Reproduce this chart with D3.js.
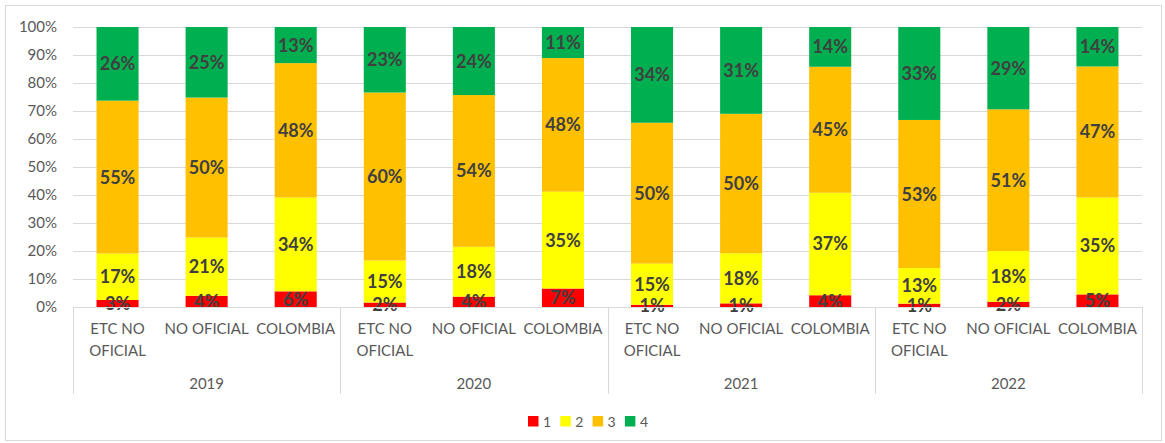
<!DOCTYPE html>
<html>
<head>
<meta charset="utf-8">
<script src="https://cdn.jsdelivr.net/npm/d3@7"></script>
<style>
  body { margin: 0; background: #fff; }
  .chart text { font-family: Lato, "Liberation Sans", sans-serif; }
</style>
</head>
<body>
<div class="chart"></div>
<script>
// values, in percent (labels show them rounded)
let years = ["2019", "2020", "2021", "2022"];
let groups = ["ETC NO OFICIAL", "NO OFICIAL", "COLOMBIA"];
let groupLines = [["ETC NO", "OFICIAL"], ["NO OFICIAL"], ["COLOMBIA"]];

let nivel1 = [2.5, 4.0, 5.6, 1.6, 3.7, 6.6, 0.8, 1.3, 4.2, 1.2, 1.9, 4.5];
let nivel2 = [16.6, 20.8, 33.5, 15.0, 17.8, 34.6, 14.7, 17.9, 36.6, 12.7, 18.1, 34.6];
let nivel3 = [54.6, 50.0, 48.0, 60.0, 54.2, 47.7, 50.3, 49.8, 45.0, 52.9, 50.6, 46.8];
let nivel4 = [26.3, 25.2, 12.9, 23.4, 24.3, 11.1, 34.2, 31.0, 14.2, 33.2, 29.4, 14.1];

let seriesNames = ["1", "2", "3", "4"];
let yTicks = [0, 10, 20, 30, 40, 50, 60, 70, 80, 90, 100];

let colors = ["#FF0000", "#FFFF00", "#FFC000", "#00B050"];

let W = 1165, H = 443;
let margin = {top: 27, left: 73, right: 23, bottom: 136};

//one row per bar, built from the arrays above
let rows = [];
years.forEach((yr, i) => {
    groups.forEach((g, j) => {
        let k = i * groups.length + j;
        rows.push({
            key: yr + "|" + g,
            year: yr,
            group: j,
            "1": nivel1[k],
            "2": nivel2[k],
            "3": nivel3[k],
            "4": nivel4[k]
        });
    });
});

let svg = d3.select(".chart").append("svg")
    .attr("width", W)
    .attr("height", H);

//outer frame
svg.append("rect")
    .attr("x", 5.5).attr("y", 5.5)
    .attr("width", 1156).attr("height", 435)
    .attr("fill", "#fff")
    .attr("stroke", "#d9d9d9");

let x0 = margin.left, x1 = W - margin.right;
let yBottom = H - margin.bottom;

let xScale = d3.scaleBand()
    .domain(rows.map(d => d.key))
    .range([x0, x1])
    .paddingInner(0.528)
    .paddingOuter(0.264);

let yScale = d3.scaleLinear()
    .domain([0, 100])
    .range([yBottom, margin.top]);

//gridlines + y labels
let yAxis = svg.append("g")
    .attr("transform", `translate(${x0},0)`)
    .call(d3.axisLeft(yScale)
        .tickValues(yTicks)
        .tickSize(-(x1 - x0))
        .tickPadding(16)
        .tickFormat(d => d + "%"));
yAxis.select(".domain").remove();
yAxis.selectAll(".tick line").attr("stroke", "#d9d9d9");
yAxis.selectAll(".tick text")
    .attr("fill", "#595959")
    .style("font-size", "15px");

let stack = d3.stack().keys(seriesNames);
let stacked = stack(rows);

let layer = svg.selectAll(".layer")
    .data(stacked)
    .enter()
    .append("g")
    .attr("class", "layer")
    .attr("fill", (d, i) => colors[i]);

layer.selectAll("rect")
    .data(d => d)
    .enter()
    .append("rect")
    .attr("x", d => xScale(d.data.key))
    .attr("width", xScale.bandwidth())
    .attr("y", d => yScale(d[1]))
    .attr("height", d => yScale(d[0]) - yScale(d[1]));

//data labels on top of everything
let labelG = svg.append("g");
stacked.forEach(s => {
    labelG.selectAll(null)
        .data(s)
        .enter()
        .append("text")
        .attr("x", d => xScale(d.data.key) + xScale.bandwidth() / 2)
        .attr("y", d => yScale((d[0] + d[1]) / 2))
        .attr("dy", "0.36em")
        .attr("text-anchor", "middle")
        .attr("fill", "#404040")
        .style("font-size", "18px")
        .style("font-weight", "bold")
        .text(d => Math.round(d[1] - d[0]) + "%");
});

//category axis: base line and year separators
let catAxis = svg.append("g");
catAxis.append("line")
    .attr("x1", x0).attr("x2", x1)
    .attr("y1", yBottom + 0.5).attr("y2", yBottom + 0.5)
    .attr("stroke", "#d9d9d9");

let step = xScale.step();
let sepX = d3.range(years.length + 1).map(i => x0 + i * groups.length * step);
catAxis.selectAll(".sep")
    .data(sepX)
    .enter()
    .append("line")
    .attr("class", "sep")
    .attr("x1", d => Math.round(d) + 0.5).attr("x2", d => Math.round(d) + 0.5)
    .attr("y1", yBottom).attr("y2", 394)
    .attr("stroke", "#d9d9d9");

let catLabel = catAxis.selectAll(".cat")
    .data(rows)
    .enter()
    .append("text")
    .attr("class", "cat")
    .attr("text-anchor", "middle")
    .attr("fill", "#595959")
    .style("font-size", "15px")
    .attr("transform", d => `translate(${xScale(d.key) + xScale.bandwidth() / 2},334)`);

catLabel.selectAll("tspan")
    .data(d => groupLines[d.group])
    .enter()
    .append("tspan")
    .attr("x", 0)
    .attr("y", (d, i) => i * 22)
    .text(d => d);

catAxis.selectAll(".year")
    .data(years)
    .enter()
    .append("text")
    .attr("class", "year")
    .attr("x", (d, i) => (sepX[i] + sepX[i + 1]) / 2)
    .attr("y", 389)
    .attr("text-anchor", "middle")
    .attr("fill", "#595959")
    .style("font-size", "15px")
    .text(d => d);

//legend
let legend = svg.append("g")
    .attr("transform", "translate(528,416)");

let item = legend.selectAll(".item")
    .data(seriesNames)
    .enter()
    .append("g")
    .attr("class", "item")
    .attr("transform", (d, i) => `translate(${i * 32.3},0)`);

item.append("rect")
    .attr("width", 10.5)
    .attr("height", 10.5)
    .attr("fill", (d, i) => colors[i]);

item.append("text")
    .attr("x", 15)
    .attr("y", 5.5)
    .attr("dy", "0.36em")
    .attr("fill", "#595959")
    .style("font-size", "14px")
    .text(d => d);
</script>
</body>
</html>
